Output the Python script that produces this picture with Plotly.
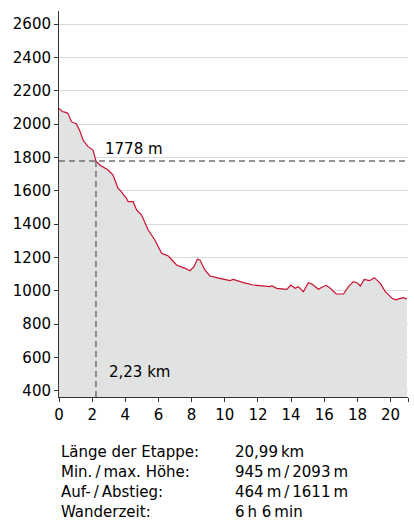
import plotly.graph_objects as go

# Elevation profile (distance in km, elevation in m)
km = [0, 0.2, 0.4, 0.54, 0.75, 1.05, 1.25, 1.45, 1.75, 2.05, 2.23, 2.46, 2.96, 3.26,
      3.56, 3.67, 4.07, 4.17, 4.47, 4.68, 4.98, 5.38, 5.78, 6.19, 6.59, 7.09, 7.6, 7.9,
      8.14, 8.35, 8.45, 8.5, 8.8, 9.1, 9.7, 10.31, 10.51, 11.12, 11.72, 12.73, 12.83,
      13.13, 13.74, 13.98, 14.24, 14.44, 14.74, 15.04, 15.25, 15.45, 15.65, 15.85, 16.11,
      16.36, 16.72, 17.16, 17.46, 17.76, 17.97, 18.17, 18.41, 18.73, 19.02, 19.38, 19.68,
      20.09, 20.3, 20.59, 20.79, 20.99]
elev = [2093, 2075, 2070, 2064, 2014, 2000, 1960, 1904, 1864, 1844, 1778, 1754, 1724, 1694,
        1614, 1604, 1554, 1534, 1534, 1484, 1454, 1364, 1304, 1224, 1208, 1154, 1134, 1120,
        1144, 1190, 1184, 1184, 1124, 1088, 1074, 1060, 1068, 1048, 1034, 1024, 1030,
        1014, 1008, 1034, 1014, 1024, 994, 1048, 1040, 1024, 1008, 1020, 1032,
        1014, 980, 980, 1024, 1054, 1048, 1028, 1068, 1060, 1078, 1044, 994,
        954, 945, 954, 958, 950]

marker_km = 2.23
marker_elev = 1778
marker_km_label = "2,23 km"
marker_elev_label = "1778 m"

x_ticks = [0, 2, 4, 6, 8, 10, 12, 14, 16, 18, 20]
y_ticks = [400, 600, 800, 1000, 1200, 1400, 1600, 1800, 2000, 2200, 2400, 2600]

stat_labels = ["Länge der Etappe:", "Min.\u2009/\u2009max. Höhe:", "Auf-\u2009/\u2009Abstieg:", "Wanderzeit:"]
stat_values = ["20,99\u2009km", "945\u2009m\u2009/\u20092093\u2009m", "464\u2009m\u2009/\u20091611\u2009m", "6\u2009h 6\u2009min"]

X_MAX = 21.05
Y_MIN, Y_MAX = 362, 2678
FONT = "DejaVu Sans"
TXT = "#000"

fig = go.Figure()
fig.add_trace(go.Scatter(
    x=km, y=elev, mode="lines",
    line=dict(color="#c8102e", width=1.2),
    fill="tozeroy", fillcolor="#e1e2e2",
    hoverinfo="skip", showlegend=False,
))

dash_col = "#707070"
fig.add_shape(type="line", xref="x", yref="y", x0=0, x1=X_MAX, y0=marker_elev, y1=marker_elev,
              line=dict(color=dash_col, width=1.5, dash="6px,4px"))
fig.add_shape(type="line", xref="x", yref="y", x0=marker_km, x1=marker_km, y0=Y_MIN, y1=marker_elev,
              line=dict(color=dash_col, width=1.5, dash="6px,4px"))

fig.add_annotation(x=2.63, y=1850, text=marker_elev_label, showarrow=False,
                   xanchor="left", yanchor="middle", font=dict(family=FONT, size=15, color=TXT))
fig.add_annotation(x=2.87, y=512, text=marker_km_label, showarrow=False,
                   xanchor="left", yanchor="middle", font=dict(family=FONT, size=15, color=TXT))

plot_h = 386.0
for i, (lab, val) in enumerate(zip(stat_labels, stat_values)):
    ypix = 452 + 20 * i
    yp = (397 - ypix) / plot_h
    fig.add_annotation(x=0, y=yp, xref="paper", yref="paper", text=lab, showarrow=False,
                       xanchor="left", yanchor="middle", font=dict(family=FONT, size=15, color=TXT))
    fig.add_annotation(x=(233 - 59) / 349.0, y=yp, xref="paper", yref="paper", text=val, showarrow=False,
                       xanchor="left", yanchor="middle", font=dict(family=FONT, size=15, color=TXT))

fig.update_layout(
    width=414, height=531,
    margin=dict(l=59, r=6, t=11, b=134, autoexpand=False),
    paper_bgcolor="white", plot_bgcolor="white",
    font=dict(family=FONT, size=15, color=TXT),
    xaxis=dict(range=[0, X_MAX], tickvals=x_ticks + [X_MAX], ticktext=[str(v) for v in x_ticks] + [""],
               showgrid=False, zeroline=False, showline=True, linecolor="#333", linewidth=1,
               ticks="outside", ticklen=4, tickcolor="#333", tickfont=dict(size=15), automargin=False),
    yaxis=dict(range=[Y_MIN, Y_MAX], tickvals=y_ticks, showgrid=True, gridcolor="#d9d9d9", gridwidth=1,
               zeroline=False, showline=True, linecolor="#333", linewidth=1,
               ticks="outside", ticklen=4, tickcolor="#333", tickfont=dict(size=15), automargin=False),
)

fig.write_html("out.html", config={"displayModeBar": False},
               post_script="document.body.style.margin='0';document.body.style.overflow='hidden';")
